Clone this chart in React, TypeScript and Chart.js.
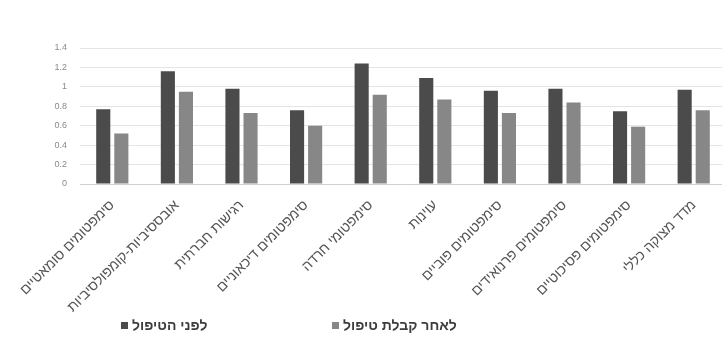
import React, { useEffect, useRef } from "react";
import { Chart, registerables } from "chart.js";

Chart.register(...registerables);

// SCL-90 subscale labels
const categories: string[] = [
  "סימפטומים סומאטיים",
  "אובססיביות-קומפולסיביות",
  "רגישות חברתית",
  "סימפטומים דיכאוניים",
  "סימפטומי חרדה",
  "עוינות",
  "סימפטומים פוביים",
  "סימפטומים פרנואידים",
  "סימפטומים פסיכוטיים",
  "מדד מצוקה כללי",
];

const seriesNames: string[] = ["לפני הטיפול", "לאחר קבלת טיפול"];

const beforeTreatment: number[] = [0.77, 1.16, 0.98, 0.76, 1.24, 1.09, 0.96, 0.98, 0.75, 0.97];
const afterTreatment: number[] = [0.52, 0.95, 0.73, 0.6, 0.92, 0.87, 0.73, 0.84, 0.59, 0.76];

const yTicks: number[] = [0, 0.2, 0.4, 0.6, 0.8, 1, 1.2, 1.4];

const seriesColors: string[] = ["#4b4b4b", "#878787"];

export default function App() {
  const canvasRef = useRef<HTMLCanvasElement | null>(null);

  useEffect(() => {
    const canvas = canvasRef.current;
    if (!canvas) return;
    const chart = new Chart(canvas, {
      type: "bar",
      data: {
        labels: categories,
        datasets: [
          {
            label: seriesNames[0],
            data: beforeTreatment,
            backgroundColor: seriesColors[0],
            categoryPercentage: 0.56,
            barPercentage: 0.78,
          },
          {
            label: seriesNames[1],
            data: afterTreatment,
            backgroundColor: seriesColors[1],
            categoryPercentage: 0.56,
            barPercentage: 0.78,
          },
        ],
      },
      options: {
        responsive: false,
        animation: false,
        devicePixelRatio: 1,
        layout: { padding: { top: 48, left: 0, right: 0, bottom: 0 } },
        plugins: {
          legend: { display: false },
          tooltip: { enabled: false },
        },
        scales: {
          x: {
            grid: { display: false },
            border: { display: true, color: "#d0d0d0" },
            ticks: {
              autoSkip: false,
              minRotation: 45,
              maxRotation: 45,
              padding: 5,
              color: "#555555",
              font: { family: "'Liberation Sans', Arial, sans-serif", size: 14 },
            },
            afterFit: (scale: any) => {
              scale.height = 339 - 184;
            },
          },
          y: {
            min: 0,
            max: 1.4,
            afterBuildTicks: (scale: any) => {
              scale.ticks = yTicks.map((v) => ({ value: v }));
            },
            grid: { color: "#e4e4e4", drawTicks: false },
            border: { display: false },
            ticks: {
              padding: 13,
              color: "#8a8a8a",
              font: { family: "'Liberation Sans', Arial, sans-serif", size: 9 },
              callback: (v: any) => String(v),
            },
            afterFit: (scale: any) => {
              scale.width = 80;
            },
          },
        },
      },
    });
    return () => chart.destroy();
  }, []);

  const legendFont = "bold 14px 'Liberation Sans', Arial, sans-serif";

  return (
    <div
      style={{
        position: "fixed",
        left: 0,
        top: 0,
        width: 722,
        height: 339,
        overflow: "hidden",
        background: "#ffffff",
      }}
    >
      <canvas ref={canvasRef} width={726} height={339} style={{ display: "block" }} />
      {seriesNames.map((name, i) => (
        <div
          key={name}
          style={{
            position: "absolute",
            left: i === 0 ? 121 : 332,
            top: 317,
            display: "flex",
            alignItems: "center",
            font: legendFont,
            color: "#3c3c3c",
            whiteSpace: "nowrap",
          }}
        >
          <span
            style={{
              display: "inline-block",
              width: 7,
              height: 7,
              background: seriesColors[i],
              marginRight: 4,
            }}
          />
          <span>{name}</span>
        </div>
      ))}
    </div>
  );
}
